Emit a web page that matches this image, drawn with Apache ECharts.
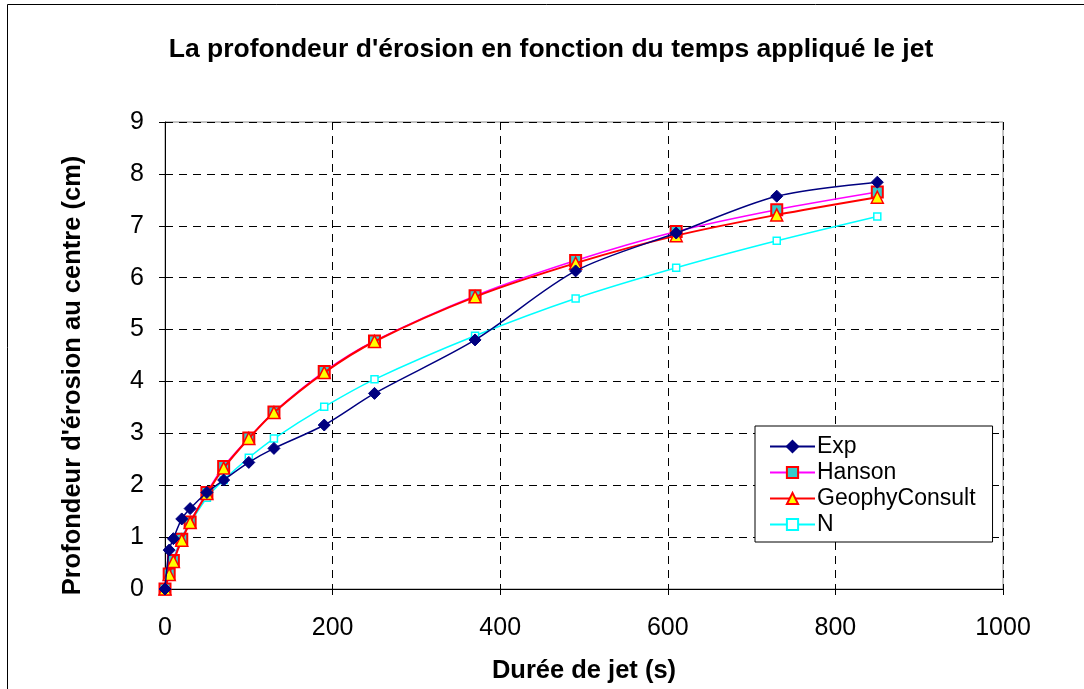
<!DOCTYPE html>
<html>
<head>
<meta charset="utf-8">
<script src="https://cdn.jsdelivr.net/npm/echarts@6/dist/echarts.min.js"></script>
<style>
html,body{margin:0;padding:0;background:#fff;}
#c{width:1084px;height:689px;}
</style>
</head>
<body>
<div id="c"></div>
<script>
const seriesNames = ['Exp', 'Hanson', 'GeophyConsult', 'N'];
const times = [0, 5, 10, 20, 30, 50, 70, 100, 130, 190, 250, 370, 490, 610, 730, 850];
const expVals = [0, 0.75, 0.97, 1.35, 1.55, 1.86, 2.10, 2.44, 2.71, 3.16, 3.77, 4.80, 6.13, 6.86, 7.57, 7.84];
const hansonVals = [0, 0.29, 0.55, 0.96, 1.29, 1.86, 2.36, 2.91, 3.41, 4.19, 4.78, 5.65, 6.33, 6.89, 7.31, 7.65];
const geophyVals = [0, 0.28, 0.53, 0.94, 1.28, 1.84, 2.33, 2.90, 3.40, 4.17, 4.77, 5.63, 6.28, 6.81, 7.21, 7.55];
const nVals = [0, 0.30, 0.57, 1.00, 1.27, 1.76, 2.10, 2.53, 2.90, 3.51, 4.04, 4.88, 5.60, 6.19, 6.71, 7.18];
const xTicks = [0, 200, 400, 600, 800, 1000];
const yTicks = [0, 1, 2, 3, 4, 5, 6, 7, 8, 9];

const pairs = vals => times.map((t, i) => [t, vals[i]]);
const FONT = 'Liberation Sans, Arial, sans-serif';

const chart = echarts.init(document.getElementById('c'), null, {renderer: 'canvas'});
chart.setOption({
  backgroundColor: '#fff',
  animation: false,
  title: {
    text: "La profondeur d'érosion en fonction du temps appliqué le jet",
    left: 546, top: 31, textAlign: 'center',
    textStyle: {fontFamily: FONT, fontSize: 26.5, fontWeight: 'bold', color: '#000'}
  },
  graphic: [{
    type: 'rect', shape: {x: 7.5, y: 4.5, width: 1090, height: 700},
    style: {fill: 'none', stroke: '#000', lineWidth: 1}, silent: true
  }],
  grid: {left: 165, top: 122, right: 81, bottom: 99, show: true, borderColor: '#888', borderWidth: 1, backgroundColor: '#fff'},
  legend: {
    orient: 'vertical', left: 755, top: 426,
    padding: [9, 17, 6, 14], itemGap: 3,
    itemWidth: 45, itemHeight: 14,
    backgroundColor: '#fff', borderColor: '#000', borderWidth: 1,
    textStyle: {fontFamily: FONT, fontSize: 23, color: '#000', padding: [0, 0, 0, -3]},
    data: seriesNames
  },
  xAxis: {
    type: 'value', min: xTicks[0], max: xTicks[xTicks.length - 1], interval: 200,
    name: 'Durée de jet (s)', nameLocation: 'middle', nameGap: 69,
    nameTextStyle: {fontFamily: FONT, fontSize: 25.5, fontWeight: 'bold', color: '#000'},
    axisLine: {show: true, onZero: false, lineStyle: {color: '#000', width: 1}},
    axisTick: {show: true, inside: false, length: 6, lineStyle: {color: '#000'}},
    axisLabel: {fontFamily: FONT, fontSize: 25, color: '#000', margin: 27, formatter: v => String(v)},
    splitLine: {show: true, lineStyle: {color: '#000', type: [8, 6], width: 1}}
  },
  yAxis: {
    type: 'value', min: yTicks[0], max: yTicks[yTicks.length - 1], interval: 1,
    name: "Profondeur d'érosion au centre (cm)", nameLocation: 'middle', nameGap: 79,
    nameTextStyle: {fontFamily: FONT, fontSize: 25.5, fontWeight: 'bold', color: '#000', padding: [0, 40, 0, 0]},
    axisLine: {show: true, lineStyle: {color: '#000', width: 1}},
    axisTick: {show: true, inside: false, length: 6, lineStyle: {color: '#000'}},
    axisLabel: {fontFamily: FONT, fontSize: 25, color: '#000', margin: 21, formatter: v => String(v)},
    splitLine: {show: true, lineStyle: {color: '#000', type: [8, 6], width: 1}}
  },
  series: [
    {
      name: seriesNames[0], type: 'line', data: pairs(expVals), smooth: 0.3,
      symbol: 'diamond', symbolSize: 12,
      lineStyle: {color: '#000080', width: 1.5},
      itemStyle: {color: '#000080', borderColor: '#000080', borderWidth: 1},
      z: 4
    },
    {
      name: seriesNames[1], type: 'line', data: pairs(hansonVals), smooth: 0.3,
      symbol: 'rect', symbolSize: 11,
      lineStyle: {color: '#ff00ff', width: 1.5},
      itemStyle: {color: '#33cccc', borderColor: '#ff0000', borderWidth: 2},
      z: 2
    },
    {
      name: seriesNames[2], type: 'line', data: pairs(geophyVals), smooth: 0.3,
      symbol: 'triangle', symbolSize: 12,
      lineStyle: {color: '#ff0000', width: 2},
      itemStyle: {color: '#ffff00', borderColor: '#ff0000', borderWidth: 1.5},
      z: 3
    },
    {
      name: seriesNames[3], type: 'line', data: pairs(nVals), smooth: 0.3,
      symbol: 'rect', symbolSize: 7,
      lineStyle: {color: '#00ffff', width: 1.5},
      itemStyle: {color: '#ffffff', borderColor: '#00ffff', borderWidth: 1.5},
      z: 1
    }
  ]
});
</script>
</body>
</html>
